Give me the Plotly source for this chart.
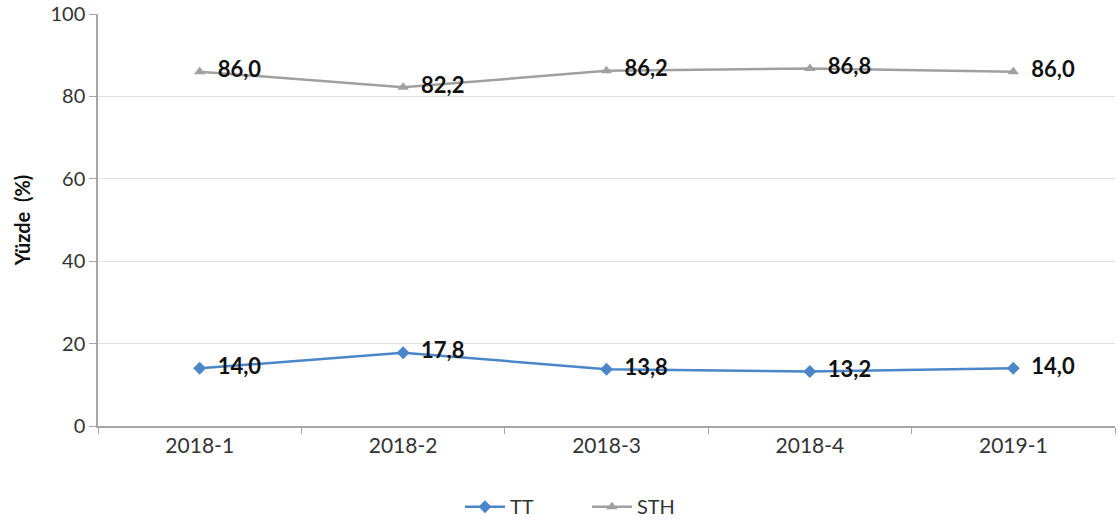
import plotly.graph_objects as go

categories = ["2018-1", "2018-2", "2018-3", "2018-4", "2019-1"]
tt_values = [14.0, 17.8, 13.8, 13.2, 14.0]
sth_values = [86.0, 82.2, 86.2, 86.8, 86.0]
y_ticks = [0, 20, 40, 60, 80, 100]

def fmt(v):
    return f"{v:.1f}".replace(".", ",")

label_font = dict(family="Lato, Open Sans, sans-serif", size=22, color="#111111", weight="bold")

fig = go.Figure()
fig.add_trace(go.Scatter(
    x=categories, y=tt_values, name="TT", mode="lines+markers+text",
    line=dict(color="#4a86c8", width=2.5),
    marker=dict(symbol="diamond", size=10, color="#4a86c8"),
    text=["  " + fmt(v) for v in tt_values], textposition="middle right",
    textfont=label_font,
))
fig.add_trace(go.Scatter(
    x=categories, y=sth_values, name="STH", mode="lines+markers+text",
    line=dict(color="#a0a0a0", width=2.5),
    marker=dict(symbol="triangle-up", size=10, color="#a0a0a0"),
    text=["  " + fmt(v) for v in sth_values], textposition="middle right",
    textfont=label_font,
))

fig.update_layout(
    width=1118, height=525,
    margin=dict(l=98, r=3, t=14, b=99),
    paper_bgcolor="white", plot_bgcolor="white",
    font=dict(family="Lato, Open Sans, sans-serif", size=20, color="#333333"),
    showlegend=True,
    legend=dict(orientation="h", xref="container", x=0.525, xanchor="center",
                yref="container", y=0.035, yanchor="middle",
                font=dict(size=20, color="#333333"), itemwidth=40,
                entrywidth=72),
    xaxis=dict(
        type="category", range=[-0.5, 4.5], tickson="boundaries",
        showline=True, linecolor="#a6a6a6", linewidth=1.5,
        ticks="outside", ticklen=6, tickcolor="#a6a6a6",
        showgrid=False, tickfont=dict(size=21, color="#333333"),
        automargin=False,
    ),
    yaxis=dict(
        range=[0, 100], tickvals=y_ticks, showgrid=True, gridcolor="#e0e0e0",
        showline=True, linecolor="#a6a6a6", linewidth=1.5,
        ticks="outside", ticklen=7, tickcolor="#a6a6a6",
        tickfont=dict(size=20, color="#333333"), zeroline=False,
        automargin=False, ticklabeloverflow="allow",
        title=dict(text="<b>Yüzde  (%)</b>", font=dict(size=20, color="#111111"), standoff=14),
    ),
)

fig.write_html("out.html", config={"displayModeBar": False},
               post_script="document.body.style.margin='0';document.body.style.overflow='hidden';")
